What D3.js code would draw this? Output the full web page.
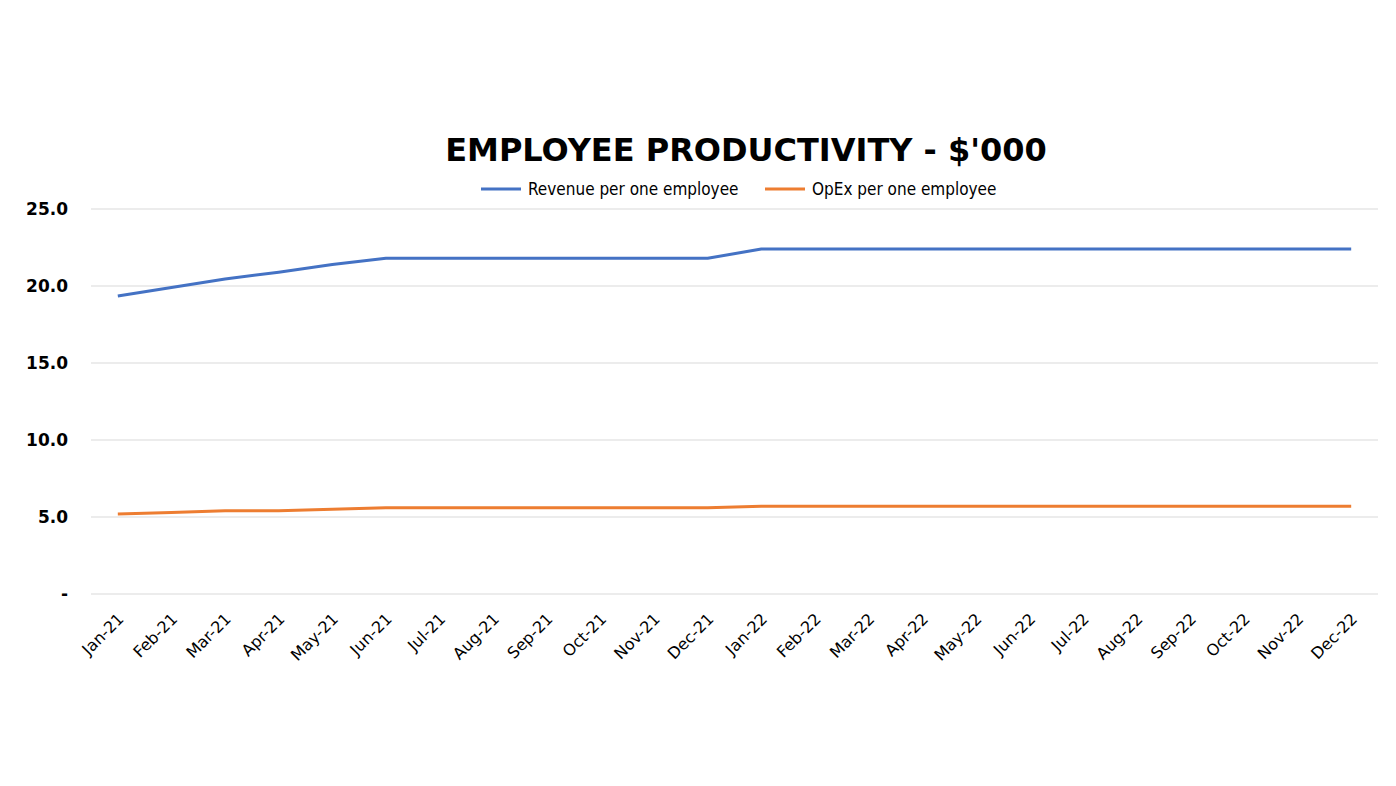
<!DOCTYPE html>
<html>
<head>
<meta charset="utf-8">
<script src="https://cdn.jsdelivr.net/npm/d3@7"></script>
<style>
  body { margin: 0; background: #fff; }
  svg { display: block; }
</style>
</head>
<body>
<div id="chart"></div>
<script>
const months = ["Jan-21","Feb-21","Mar-21","Apr-21","May-21","Jun-21","Jul-21","Aug-21","Sep-21","Oct-21","Nov-21","Dec-21",
                "Jan-22","Feb-22","Mar-22","Apr-22","May-22","Jun-22","Jul-22","Aug-22","Sep-22","Oct-22","Nov-22","Dec-22"];
const revenue = [19.35, 19.9, 20.45, 20.9, 21.4, 21.8, 21.8, 21.8, 21.8, 21.8, 21.8, 21.8,
                 22.4, 22.4, 22.4, 22.4, 22.4, 22.4, 22.4, 22.4, 22.4, 22.4, 22.4, 22.4];
const opex = [5.2, 5.3, 5.4, 5.4, 5.5, 5.6, 5.6, 5.6, 5.6, 5.6, 5.6, 5.6,
              5.7, 5.7, 5.7, 5.7, 5.7, 5.7, 5.7, 5.7, 5.7, 5.7, 5.7, 5.7];
const yTicks = [0, 5, 10, 15, 20, 25];
const seriesNames = ["Revenue per one employee", "OpEx per one employee"];
const colors = ["#4472C4", "#ED7D31"];

const width = 1396, height = 786;
const margin = {top: 209, right: 18, bottom: 192, left: 91};

const svg = d3.select("#chart").append("svg")
    .attr("width", width)
    .attr("height", height);

const x = d3.scalePoint()
    .domain(months)
    .range([margin.left, width - margin.right])
    .padding(0.5);

const y = d3.scaleLinear()
    .domain([0, 25])
    .range([height - margin.bottom, margin.top]);

// gridlines
svg.append("g")
    .selectAll("line")
    .data(yTicks)
    .enter().append("line")
        .attr("x1", margin.left)
        .attr("x2", width - margin.right)
        .attr("y1", d => y(d))
        .attr("y2", d => y(d))
        .attr("stroke", "#d9d9d9")
        .attr("stroke-width", 1);

// y axis labels
svg.append("g")
    .selectAll("text")
    .data(yTicks)
    .enter().append("text")
        .attr("x", 68)
        .attr("y", d => y(d))
        .attr("dy", "0.35em")
        .attr("text-anchor", "end")
        .style("font-family", "DejaVu Sans, Verdana, sans-serif")
        .style("font-weight", "bold")
        .style("font-size", "17px")
        .text(d => d === 0 ? "-" : d3.format(".1f")(d));

// x axis labels
svg.append("g")
    .selectAll("text")
    .data(months)
    .enter().append("text")
        .attr("transform", d => `translate(${x(d) + 3}, ${height - margin.bottom + 22}) rotate(-45)`)
        .attr("text-anchor", "end")
        .attr("dy", "0.35em")
        .style("font-family", "DejaVu Sans, Verdana, sans-serif")
        .style("font-size", "16px")
        .text(d => d);

// lines
const line = d3.line()
    .x((d, i) => x(months[i]))
    .y(d => y(d));

[revenue, opex].forEach((series, i) => {
    svg.append("path")
        .datum(series)
        .attr("fill", "none")
        .attr("stroke", colors[i])
        .attr("stroke-width", 3)
        .attr("stroke-linejoin", "round")
        .attr("d", line);
});

// title
svg.append("text")
    .attr("x", 746)
    .attr("y", 161)
    .attr("text-anchor", "middle")
    .style("font-family", "DejaVu Sans, Verdana, sans-serif")
    .style("font-weight", "bold")
    .style("font-size", "32px")
    .text("EMPLOYEE PRODUCTIVITY - $'000");

// legend
const legendX = [481, 765];
seriesNames.forEach((name, i) => {
    const g = svg.append("g").attr("transform", `translate(${legendX[i]}, 189)`);
    g.append("line")
        .attr("x1", 0).attr("x2", 40)
        .attr("stroke", colors[i])
        .attr("stroke-width", 3);
    g.append("text")
        .attr("x", 47)
        .attr("dy", "0.35em")
        .style("font-family", "DejaVu Sans Condensed, DejaVu Sans, sans-serif")
        .style("font-stretch", "condensed")
        .style("font-size", "17px")
        .text(name);
});
</script>
</body>
</html>
